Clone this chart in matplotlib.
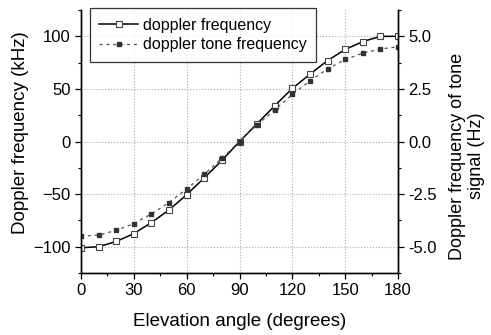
import numpy as np
import matplotlib
matplotlib.use("Agg")
import matplotlib.pyplot as plt
from matplotlib.ticker import MultipleLocator, FormatStrFormatter

plt.rcParams['font.family'] = ['Liberation Sans', 'DejaVu Sans']

# elevation angle (degrees)
angle = [0, 10, 20, 30, 40, 50, 60, 70, 80, 90, 100, 110, 120, 130, 140, 150, 160, 170, 180]
# doppler frequency (kHz)
doppler_khz = [-101, -100, -95, -87.5, -77, -65, -50.5, -34.5, -18, 0,
               17, 34, 50.5, 64, 77, 87.5, 95, 100, 100]
# doppler frequency of tone signal (Hz)
tone_hz = [-4.5, -4.45, -4.22, -3.9, -3.44, -2.9, -2.25, -1.56, -0.8, 0,
           0.8, 1.5, 2.24, 2.88, 3.45, 3.9, 4.2, 4.4, 4.5]

fig = plt.figure(figsize=(4.91, 3.35), dpi=100)
ax = fig.add_axes([0.165, 0.185, 0.6456, 0.785])
ax2 = ax.twinx()

l1, = ax.plot(angle, doppler_khz, '-', color='black', lw=1.1,
              marker='s', ms=4.5, mfc='white', mec='#444444', mew=0.8,
              label='doppler frequency')
l2, = ax2.plot(angle, tone_hz, color='#555555', lw=0.9, ls=(0, (2.5, 3)),
               marker='s', ms=3.5, mfc='#333333', mec='#333333',
               label='doppler tone frequency')

ax.set_xlim(0, 180)
ax.set_ylim(-125, 125)
ax2.set_ylim(-6.25, 6.25)

ax.xaxis.set_major_locator(MultipleLocator(30))
ax.xaxis.set_minor_locator(MultipleLocator(15))
ax.yaxis.set_major_locator(MultipleLocator(50))
ax.yaxis.set_minor_locator(MultipleLocator(25))
ax2.yaxis.set_major_locator(MultipleLocator(2.5))
ax2.yaxis.set_minor_locator(MultipleLocator(1.25))
ax2.yaxis.set_major_formatter(FormatStrFormatter('%.1f'))

ax.grid(True, which='major', color='#aaaaaa', ls=':', lw=0.8)

for a in (ax, ax2):
    a.spines['top'].set_visible(False)
    a.tick_params(which='major', length=4, width=0.9, labelsize=12, direction='out')
    a.tick_params(which='minor', length=2.5, width=0.8, direction='out')
    for s in a.spines.values():
        s.set_linewidth(1.0)

ax.set_xlabel('Elevation angle (degrees)', fontsize=13.5)
ax.xaxis.set_label_coords(0.5, -0.152)
ax.set_ylabel('Doppler frequency (kHz)', fontsize=13.5)
ax.yaxis.set_label_coords(-0.164, 0.532)
ax2.set_ylabel('Doppler frequency of tone\nsignal (Hz)', fontsize=13,
               multialignment='center')
ax2.yaxis.set_label_coords(1.16, 0.445)

leg = ax2.legend([l1, l2], [l1.get_label(), l2.get_label()], loc='upper left',
                 bbox_to_anchor=(0.028, 1.008), borderaxespad=0, fontsize=11.5,
                 frameon=True, fancybox=False, edgecolor='black',
                 handlelength=2.4, handletextpad=0.3, borderpad=0.6,
                 labelspacing=0.3)
leg.get_frame().set_linewidth(0.9)

fig.savefig('out.png', dpi=100)
